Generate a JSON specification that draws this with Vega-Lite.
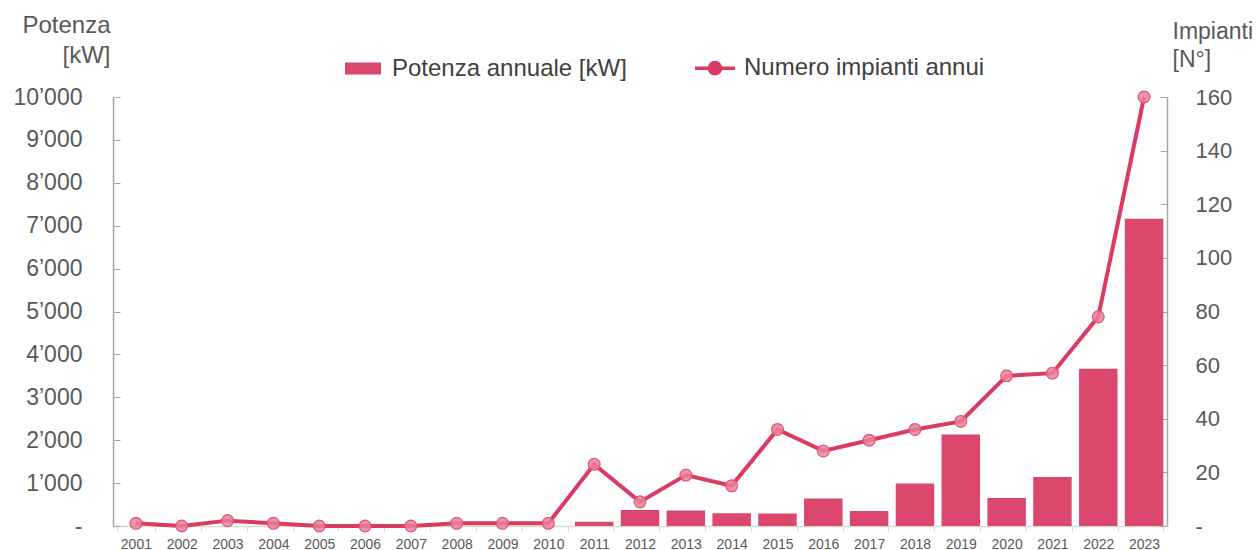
{
  "$schema": "https://vega.github.io/schema/vega-lite/v6.json",
  "width": 1054,
  "height": 429,
  "autosize": {"type": "none"},
  "padding": {"left": 113, "top": 97, "right": 91, "bottom": 24},
  "background": "white",
  "config": {
    "view": {"stroke": null},
    "font": "Liberation Sans",
    "axis": {"labelColor": "#595959", "titleColor": "#595959", "labelFont": "Liberation Sans", "titleFont": "Liberation Sans", "titleFontWeight": "normal", "grid": false}
  },
  "data": {
    "values": [
      {"anno": "2001", "potenza": 0, "impianti": 1},
      {"anno": "2002", "potenza": 0, "impianti": 0},
      {"anno": "2003", "potenza": 0, "impianti": 2},
      {"anno": "2004", "potenza": 0, "impianti": 1},
      {"anno": "2005", "potenza": 0, "impianti": 0},
      {"anno": "2006", "potenza": 0, "impianti": 0},
      {"anno": "2007", "potenza": 0, "impianti": 0},
      {"anno": "2008", "potenza": 0, "impianti": 1},
      {"anno": "2009", "potenza": 0, "impianti": 1},
      {"anno": "2010", "potenza": 0, "impianti": 1},
      {"anno": "2011", "potenza": 100, "impianti": 23},
      {"anno": "2012", "potenza": 375, "impianti": 9},
      {"anno": "2013", "potenza": 360, "impianti": 19},
      {"anno": "2014", "potenza": 300, "impianti": 15},
      {"anno": "2015", "potenza": 290, "impianti": 36},
      {"anno": "2016", "potenza": 640, "impianti": 28},
      {"anno": "2017", "potenza": 350, "impianti": 32},
      {"anno": "2018", "potenza": 990, "impianti": 36},
      {"anno": "2019", "potenza": 2130, "impianti": 39},
      {"anno": "2020", "potenza": 650, "impianti": 56},
      {"anno": "2021", "potenza": 1140, "impianti": 57},
      {"anno": "2022", "potenza": 3665, "impianti": 78},
      {"anno": "2023", "potenza": 7160, "impianti": 160}
    ]
  },
  "encoding": {
    "x": {
      "field": "anno",
      "type": "ordinal",
      "scale": {"paddingInner": 0.16, "paddingOuter": 0.08},
      "axis": {
        "title": null,
        "labelAngle": 0,
        "labelFontSize": 14,
        "labelPadding": 6,
        "tickSize": 5,
        "tickBand": "extent",
        "tickColor": "#d9d9d9",
        "domainColor": "#d9d9d9",
        "domainWidth": 1.5
      }
    }
  },
  "layer": [
    {
      "mark": {"type": "bar"},
      "encoding": {
        "y": {
          "field": "potenza",
          "type": "quantitative",
          "scale": {"domain": [0, 10000]},
          "axis": {
            "orient": "left",
            "values": [0, 1000, 2000, 3000, 4000, 5000, 6000, 7000, 8000, 9000, 10000],
            "labelExpr": "datum.value == 0 ? '-' : replace(format(datum.value, ','), ',', '’')",
            "encode": {"labels": {"update": {"dx": {"signal": "datum.value == 0 ? -13 : 0"}}}},
            "labelFontSize": 23,
            "labelPadding": 38,
            "tickSize": -7,
            "tickColor": "#a6a6a6",
            "domainColor": "#a6a6a6",
            "domainWidth": 1.5,
            "title": ["Potenza", "[kW]"],
            "titleAngle": 0,
            "titleAlign": "right",
            "titleBaseline": "alphabetic",
            "titleFontSize": 24,
            "titleLineHeight": 30,
            "titleX": -3,
            "titleY": -65
          }
        },
        "color": {
          "datum": "Potenza annuale [kW]",
          "scale": {"domain": ["Potenza annuale [kW]", "Numero impianti annui"], "range": ["#DC486B", "#DB3A62"]},
          "legend": {
            "title": null,
            "orient": "none",
            "direction": "horizontal",
            "legendX": 238,
            "legendY": -41,
            "padding": 0,
            "labelFontSize": 24,
            "labelFont": "Liberation Sans",
            "labelColor": "#404040",
            "labelOffset": 17,
            "labelLimit": 500,
            "columnPadding": 61,
            "symbolSize": 1600,
            "encode": {
              "symbols": {
                "update": {
                  "shape": {"signal": "datum.value === 'Potenza annuale [kW]' ? 'M-0.9,-0.3H0.9V0.3H-0.9Z' : 'M-1,0H1M0.28,0A0.28,0.28 0 1 1 -0.28,0A0.28,0.28 0 1 1 0.28,0'"},
                  "fill": {"signal": "datum.value === 'Potenza annuale [kW]' ? '#DC486B' : '#E9819A'"},
                  "stroke": {"signal": "datum.value === 'Potenza annuale [kW]' ? '#DC486B' : '#DB3A62'"},
                  "strokeWidth": {"signal": "datum.value === 'Potenza annuale [kW]' ? 0 : 3.5"},
                  "size": {"value": 1600},
                  "opacity": {"value": 1},
                  "fillOpacity": {"value": 1},
                  "strokeOpacity": {"value": 1}
                }
              }
            }
          }
        }
      }
    },
    {
      "encoding": {
        "y": {
          "field": "impianti",
          "type": "quantitative",
          "scale": {"domain": [0, 160]},
          "axis": {
            "orient": "right",
            "values": [0, 20, 40, 60, 80, 100, 120, 140, 160],
            "labelExpr": "datum.value == 0 ? '-' : format(datum.value, 'd')",
            "labelFontSize": 22,
            "labelPadding": 35,
            "tickSize": -7,
            "tickColor": "#a6a6a6",
            "domainColor": "#a6a6a6",
            "domainWidth": 1.5,
            "title": ["Impianti", "[N°]"],
            "titleAngle": 0,
            "titleAlign": "left",
            "titleBaseline": "alphabetic",
            "titleFontSize": 23,
            "titleLineHeight": 28,
            "titleX": 5,
            "titleY": -59
          }
        }
      },
      "layer": [
        {
          "mark": {"type": "line", "strokeWidth": 4},
          "encoding": {"color": {"datum": "Numero impianti annui"}}
        },
        {
          "mark": {"type": "point", "filled": true, "shape": "circle", "size": 140, "fill": "#E9819A", "stroke": "#E0557A", "strokeWidth": 1.2, "opacity": 1, "fillOpacity": 0.85},
          "encoding": {}
        }
      ]
    }
  ],
  "resolve": {"scale": {"y": "independent"}}
}
